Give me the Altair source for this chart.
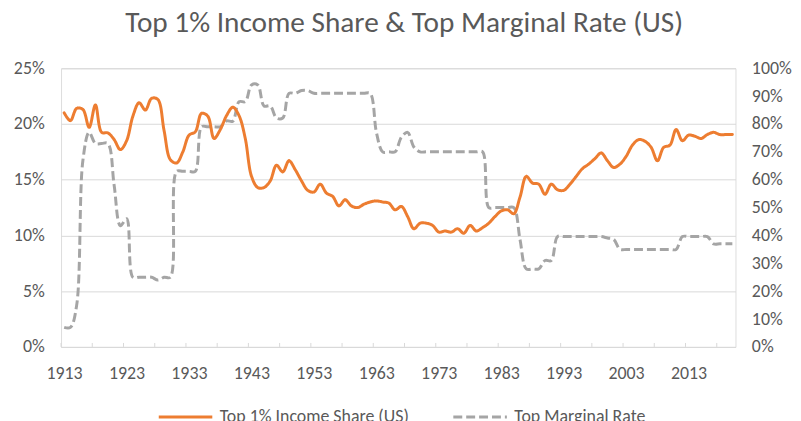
import altair as alt
import pandas as pd

years = list(range(1913, 2021))

income_share = [
    21.0, 20.3, 21.4, 21.3, 19.7, 21.7, 19.25, 19.2, 18.6, 17.7,
    18.5, 20.7, 21.9, 21.25, 22.3, 22.2, 19.4, 16.8, 16.5, 17.5,
    19.0, 19.3, 20.95, 20.7, 18.7, 19.5, 20.75, 21.5, 20.75, 18.7,
    15.3, 14.3, 14.3, 14.9, 16.3, 15.7, 16.7, 15.9, 14.9, 14.05,
    13.9, 14.6, 13.8, 13.5, 12.65, 13.2, 12.65, 12.5, 12.8, 13.0,
    13.1, 13.0, 12.9, 12.3, 12.6, 11.7, 10.6, 11.1, 11.1, 10.9,
    10.3, 10.4, 10.3, 10.6, 10.2, 10.9, 10.4, 10.7, 11.1, 11.7,
    12.2, 12.3, 11.95, 13.45, 15.3, 14.7, 14.6, 13.7, 14.6, 14.1,
    14.05, 14.6, 15.3, 16.0, 16.4, 16.9, 17.4, 16.7, 16.1, 16.4,
    17.1, 18.1, 18.6, 18.45, 17.9, 16.7, 17.9, 18.1, 19.5, 18.5,
    19.0, 18.9, 18.7, 19.05, 19.25, 19.05, 19.05, 19.05,
]

marginal_rate = [
    7, 7, 15, 67, 77, 73, 73, 73, 58, 43.5,
    46, 25, 25, 25, 25, 24, 25, 25, 63, 63,
    63, 63, 79, 79, 79, 79, 81.1, 81, 88, 88,
    94, 94, 86.45, 86.45, 82.13, 82.13, 91, 91, 92, 92,
    91, 91, 91, 91, 91, 91, 91, 91, 91, 91,
    77, 70, 70, 70, 75.25, 77, 71.75, 70, 70, 70,
    70, 70, 70, 70, 70, 70, 70, 70, 50, 50,
    50, 50, 50, 38.5, 28, 28, 28, 31, 31, 39.6,
    39.6, 39.6, 39.6, 39.6, 39.6, 39.6, 39.6, 39.1, 38.6, 35,
    35, 35, 35, 35, 35, 35, 35, 35, 35, 39.6,
    39.6, 39.6, 39.6, 39.6, 37, 37, 37, 37,
]

series_names = ["Top 1% Income Share (US)", "Top Marginal Rate"]
series_colors = ["#ED7D31", "#A5A5A5"]

left_ticks = [0, 0.05, 0.10, 0.15, 0.20, 0.25]
right_ticks = [0, 0.1, 0.2, 0.3, 0.4, 0.5, 0.6, 0.7, 0.8, 0.9, 1.0]

assert len(years) == len(income_share) == len(marginal_rate)

df = pd.DataFrame({
    "year": years * 2,
    "value": [v / 100 for v in income_share] + [v / 100 for v in marginal_rate],
    "series": [series_names[0]] * len(years) + [series_names[1]] * len(years),
})

FONT = "Carlito, Lato, 'Open Sans', sans-serif"
TXT = "#595959"
GRID = "#D9D9D9"
FS = 18

# category boundaries every 5 years (Excel-style ticks between categories)
x_tick_vals = [1912.5 + 5 * k for k in range(22)]
ticks_df = pd.DataFrame({"year": x_tick_vals})

x_scale = alt.Scale(domain=[1912.5, 2020.5], nice=False, zero=False)
x_axis = alt.Axis(
    values=x_tick_vals,
    labelExpr="((datum.value + 0.5 - 1913) % 10 == 0) ? toString(datum.value + 0.5) : ''",
    labelOffset=3,
    labelOverlap=False,
    labelBound=False,
    labelFlush=False,
    grid=False,
    domainColor=GRID,
    domainWidth=1,
    ticks=False,
    tickSize=0,
    labelPadding=18,
    labelColor=TXT,
    labelFont=FONT,
    labelFontSize=FS,
    title=None,
)
x_enc = alt.X("year:Q", scale=x_scale, axis=x_axis)

legend_cfg = dict(
    title=None,
    orient="none",
    direction="horizontal",
    legendX=97,
    legendY=323,
    symbolType="stroke",
    symbolSize=2916,
    symbolStrokeWidth=3,
    labelFont=FONT,
    labelFontSize=FS,
    labelColor=TXT,
    labelLimit=400,
    columnPadding=38,
    labelOffset=6,
    padding=0,
)

color_enc = alt.Color(
    "series:N",
    scale=alt.Scale(domain=series_names, range=series_colors),
    legend=alt.Legend(**legend_cfg),
)
dash_enc = alt.StrokeDash(
    "series:N",
    scale=alt.Scale(domain=series_names, range=[[1, 0], [9, 4]]),
    legend=alt.Legend(**legend_cfg),
)

base = alt.Chart(df)

left = base.transform_filter(alt.datum.series == series_names[0]).mark_line(
    strokeWidth=3, interpolate="catmull-rom", strokeJoin="round", strokeCap="round"
).encode(
    x=x_enc,
    y=alt.Y(
        "value:Q",
        scale=alt.Scale(domain=[0, 0.25], nice=False),
        axis=alt.Axis(
            values=left_ticks, format=".0%", grid=True, gridColor=GRID,
            domain=False, ticks=False, labelPadding=17, labelColor=TXT,
            labelFont=FONT, labelFontSize=FS, title=None,
        ),
    ),
    color=color_enc,
    strokeDash=dash_enc,
)

right = base.transform_filter(alt.datum.series == series_names[1]).mark_line(
    strokeWidth=3, interpolate="catmull-rom", strokeJoin="round"
).encode(
    x=x_enc,
    y=alt.Y(
        "value:Q",
        scale=alt.Scale(domain=[0, 1], nice=False),
        axis=alt.Axis(
            values=right_ticks, format=".0%", grid=False, orient="right",
            domain=False, ticks=False, labelPadding=16, labelColor=TXT,
            labelFont=FONT, labelFontSize=FS, title=None,
        ),
    ),
    color=color_enc,
    strokeDash=dash_enc,
)

tick_marks = alt.Chart(ticks_df).mark_rule(color=GRID, strokeWidth=1).encode(
    x=x_enc,
    y=alt.value(277),
    y2=alt.value(281),
)

chart = alt.layer(tick_marks, right, left).resolve_scale(y="independent").properties(
    width=680,
    height=281,
    autosize=alt.AutoSizeParams(type="none"),
    padding={"left": 53.5, "top": 59, "right": 58, "bottom": 80},
    title=alt.TitleParams(
        "Top 1% Income Share & Top Marginal Rate (US)",
        font=FONT, fontSize=29.5, fontWeight="normal", color=TXT,
        anchor="middle", offset=21, dx=6,
    ),
).configure_view(stroke=None).configure(background="white")

chart.save("out.html", embed_options={"renderer": "svg", "actions": False})
